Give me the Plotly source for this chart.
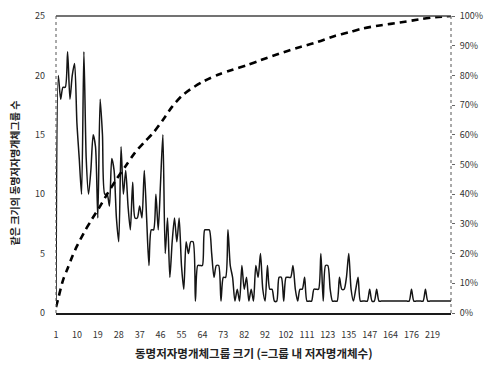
import plotly.graph_objects as go

# Group size (number of author-name entities in a homonym group), one category each
group_sizes = list(range(1, 83)) + [
    83, 84, 85, 86, 87, 88, 89, 91, 92,
    93, 94, 95, 96, 97, 98, 99, 101, 102,
    103, 104, 105, 106, 107, 108, 109, 110, 111,
    112, 113, 115, 116, 118, 119, 120, 122, 123,
    124, 125, 127, 128, 130, 131, 133, 134, 135,
    136, 137, 139, 140, 142, 143, 145, 146, 147,
    148, 150, 151, 153, 155, 157, 160, 162, 164,
    165, 166, 168, 169, 171, 172, 174, 175, 176,
    178, 181, 185, 189, 194, 199, 205, 212, 219,
    225, 233, 241, 256, 270, 298, 341, 412,
]

# Number of homonym groups having that size
group_counts = [
    1, 20, 18, 19, 19, 22, 18, 20, 21, 16, 13, 10, 22,
    13, 10, 12, 15, 14, 8, 18, 15, 10, 10, 9, 13, 12, 8, 6, 14, 10, 12,
    9, 7, 11, 8, 8, 9, 8, 12, 8, 4, 7, 7, 10, 7, 11, 15,
    5, 8, 3, 6, 8, 6, 8, 4, 2, 6, 5, 6, 6, 1, 4, 4, 4, 7, 7, 7, 5, 3, 4, 4,
    1, 3, 3, 7, 4, 3, 1, 2, 1, 4,
    2, 3, 1, 2, 1, 4, 3, 5, 2, 1, 4, 2, 2, 1, 1, 3, 3, 1, 3, 3, 3, 4, 2, 1,
    2, 2, 3, 1, 1, 1, 2, 2, 2, 5, 1, 4, 4, 2, 1, 1, 1, 3, 2, 2, 3, 5, 2, 1,
    2, 3,
    1, 1, 1, 1, 2, 1, 1, 2, 1, 1, 1, 1, 1, 1, 1, 1, 1, 1, 1, 1, 1, 1, 2, 1,
    1, 1, 1, 1, 2, 1, 1, 1, 1, 1, 1, 1, 1, 1, 1, 1,
]

# Cumulative share of groups (right axis), read at selected group sizes
cum_sizes = [1, 2, 4, 6, 8, 10, 13, 16, 20, 23, 27, 31, 35, 39, 43, 47, 51, 55,
             59, 65, 71, 77, 83, 89, 98, 107, 116, 127, 135, 143, 155, 169,
             185, 225, 412]
cum_share = [0.02, 0.05, 0.11, 0.15, 0.19, 0.225, 0.27, 0.31, 0.36, 0.40, 0.45,
             0.495, 0.54, 0.575, 0.608, 0.65, 0.695, 0.73, 0.754, 0.782, 0.803,
             0.819, 0.834, 0.851, 0.873, 0.893, 0.911, 0.933, 0.945, 0.958,
             0.969, 0.978, 0.988, 0.996, 1.0]

# Category labels shown along the x axis
x_tick_labels = [1, 10, 19, 28, 37, 46, 55, 64, 73, 82, 92, 102, 111, 123,
                 135, 147, 164, 176, 219]

left_ticks = [0, 5, 10, 15, 20, 25]
right_ticks = [0, 0.1, 0.2, 0.3, 0.4, 0.5, 0.6, 0.7, 0.8, 0.9, 1.0]

y_title = "같은 크기의 동명저자명개체그룹 수"
x_title = "동명저자명개체그룹 크기 (=그룹 내 저자명개체수)"

FONT = "Noto Sans CJK KR"
cats = [str(s) for s in group_sizes]

fig = go.Figure()
fig.add_trace(go.Scatter(
    x=cats, y=group_counts, mode="lines", yaxis="y",
    line=dict(color="#151515", width=1.5, shape="spline", smoothing=0.7),
    showlegend=False, hoverinfo="x+y",
))
fig.add_trace(go.Scatter(
    x=[str(s) for s in cum_sizes], y=cum_share, mode="lines", yaxis="y2",
    line=dict(color="#000000", width=2.6, dash="7px,5px", shape="spline", smoothing=0.8),
    showlegend=False, hoverinfo="x+y",
))

fig.update_layout(
    width=495, height=372,
    margin=dict(l=56, r=44, t=9, b=59),
    paper_bgcolor="white", plot_bgcolor="white",
    font=dict(family=FONT, color="#333333", size=9),
    xaxis=dict(
        type="category", categoryorder="array", categoryarray=cats,
        range=[0, len(cats) - 1],
        tickmode="array", tickvals=[str(v) for v in x_tick_labels],
        ticktext=[str(v) for v in x_tick_labels],
        showgrid=False, zeroline=False,
        showline=True, linecolor="#1a1a1a", linewidth=2,
        ticks="", tickfont=dict(size=9, color="#333333"),
        ticklabelstandoff=12,
    ),
    yaxis=dict(
        range=[0, 25], tickmode="array", tickvals=left_ticks,
        showgrid=False, zeroline=False, showline=False, ticks="",
        tickfont=dict(size=9, color="#333333"), ticklabelstandoff=10,
    ),
    yaxis2=dict(
        overlaying="y", side="right", range=[0, 1.0],
        tickmode="array", tickvals=right_ticks, tickformat=".0%",
        showgrid=False, zeroline=False, showline=False,
        ticks="outside", ticklen=3, tickcolor="#666666", tickwidth=1,
        tickfont=dict(size=9, color="#333333"), ticklabelstandoff=3,
    ),
    shapes=[
        # top border
        dict(type="line", xref="x domain", yref="y domain", x0=0, x1=1, y0=1, y1=1,
             line=dict(color="#444444", width=1.5)),
        # dotted left and right borders
        dict(type="line", xref="x domain", yref="y domain", x0=0, x1=0, y0=0, y1=1,
             line=dict(color="#555555", width=1, dash="dot")),
        dict(type="line", xref="x domain", yref="y domain", x0=1, x1=1, y0=0, y1=1,
             line=dict(color="#555555", width=1, dash="dot")),
    ],
    annotations=[
        dict(text=f"<b>{y_title}</b>", xref="paper", yref="paper",
             x=0, y=0.47, xanchor="center", yanchor="middle", xshift=-42,
             textangle=-90, showarrow=False,
             font=dict(family=FONT, size=10, color="#222222")),
        dict(text=f"<b>{x_title}</b>", xref="paper", yref="paper",
             x=0.5, y=0, xanchor="center", yanchor="middle", yshift=-40,
             showarrow=False,
             font=dict(family=FONT, size=11.5, color="#222222")),
    ],
)

fig.write_html("out.html")
